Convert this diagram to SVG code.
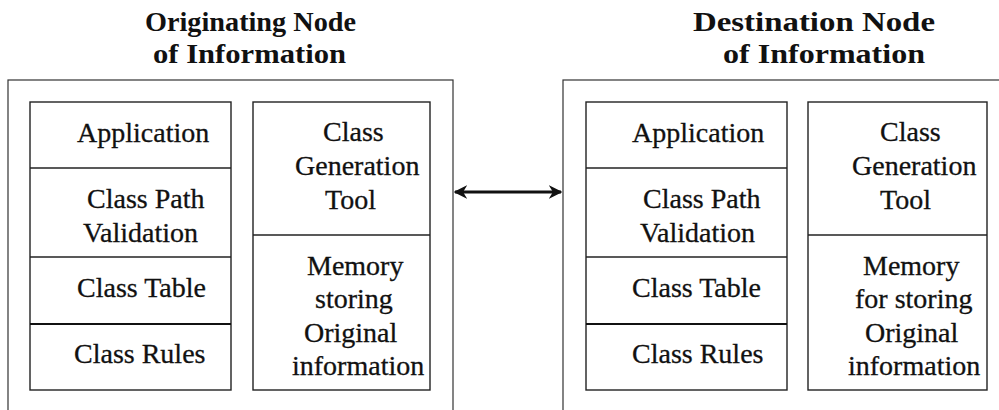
<svg xmlns="http://www.w3.org/2000/svg" width="999" height="410" viewBox="0 0 999 410">
<style>
.t{font-family:"Liberation Serif","Times New Roman",serif;font-size:28px;fill:#111;stroke:#111;stroke-width:0.3}
.h{font-family:"Liberation Serif","Times New Roman",serif;font-size:28px;font-weight:bold;fill:#111}
.b{fill:#fff;stroke:#222;stroke-width:1.4}
.o{fill:none;stroke:#333;stroke-width:1.2}
.d{stroke:#222;stroke-width:1.4}
.dk{stroke:#111;stroke-width:2.2}
</style>
<defs>
<marker id="ah" viewBox="0 0 10 10" refX="9" refY="5" markerWidth="4.5" markerHeight="4.5" orient="auto-start-reverse" markerUnits="strokeWidth">
<path d="M0,0 L10,5 L0,10 L3,5 Z" fill="#111"/>
</marker>
</defs>
<rect width="999" height="410" fill="#fff"/>
<g id="origin-node">
<text class="h" x="145" y="31" textLength="211" lengthAdjust="spacingAndGlyphs">Originating Node</text>
<text class="h" x="153" y="63" textLength="193" lengthAdjust="spacingAndGlyphs">of Information</text>
<rect class="o" x="8" y="80" width="445" height="345"/>
<g id="origin-stack">
<rect class="b" x="30" y="102" width="201" height="288"/>
<line class="d" x1="30" y1="168" x2="231" y2="168"/>
<line class="d" x1="30" y1="257" x2="231" y2="257"/>
<line class="dk" x1="30" y1="324" x2="231" y2="324"/>
<text class="t" x="77" y="142">Application</text>
<text class="t" x="87" y="208">Class Path</text>
<text class="t" x="83" y="242">Validation</text>
<text class="t" x="77" y="297">Class Table</text>
<text class="t" x="74" y="363">Class Rules</text>
</g>
<g id="origin-tool">
<rect class="b" x="253" y="102" width="177" height="288"/>
<line class="d" x1="253" y1="235" x2="430" y2="235"/>
<text class="t" x="323" y="141">Class</text>
<text class="t" x="295" y="175">Generation</text>
<text class="t" x="325" y="209">Tool</text>
<text class="t" x="307" y="275">Memory</text>
<text class="t" x="315" y="308">storing</text>
<text class="t" x="304" y="342">Original</text>
<text class="t" x="292" y="375">information</text>
</g>
</g>
<g id="dest-node">
<text class="h" x="693" y="31" textLength="242" lengthAdjust="spacingAndGlyphs">Destination Node</text>
<text class="h" x="723" y="63" textLength="202" lengthAdjust="spacingAndGlyphs">of Information</text>
<rect class="o" x="563" y="80" width="460" height="345"/>
<g id="dest-stack">
<rect class="b" x="586" y="102" width="201" height="288"/>
<line class="d" x1="586" y1="168" x2="787" y2="168"/>
<line class="d" x1="586" y1="257" x2="787" y2="257"/>
<line class="dk" x1="586" y1="324" x2="787" y2="324"/>
<text class="t" x="632" y="142">Application</text>
<text class="t" x="643" y="208">Class Path</text>
<text class="t" x="640" y="242">Validation</text>
<text class="t" x="632" y="297">Class Table</text>
<text class="t" x="632" y="363">Class Rules</text>
</g>
<g id="dest-tool">
<rect class="b" x="808" y="102" width="179" height="288"/>
<line class="d" x1="808" y1="235" x2="987" y2="235"/>
<text class="t" x="880" y="141">Class</text>
<text class="t" x="852" y="175">Generation</text>
<text class="t" x="880" y="209">Tool</text>
<text class="t" x="863" y="275">Memory</text>
<text class="t" x="855" y="308">for storing</text>
<text class="t" x="865" y="342">Original</text>
<text class="t" x="848" y="375">information</text>
</g>
</g>
<g id="connectors">
<line x1="455" y1="192" x2="561" y2="192" stroke="#111" stroke-width="3" marker-start="url(#ah)" marker-end="url(#ah)"/>
</g>
</svg>
